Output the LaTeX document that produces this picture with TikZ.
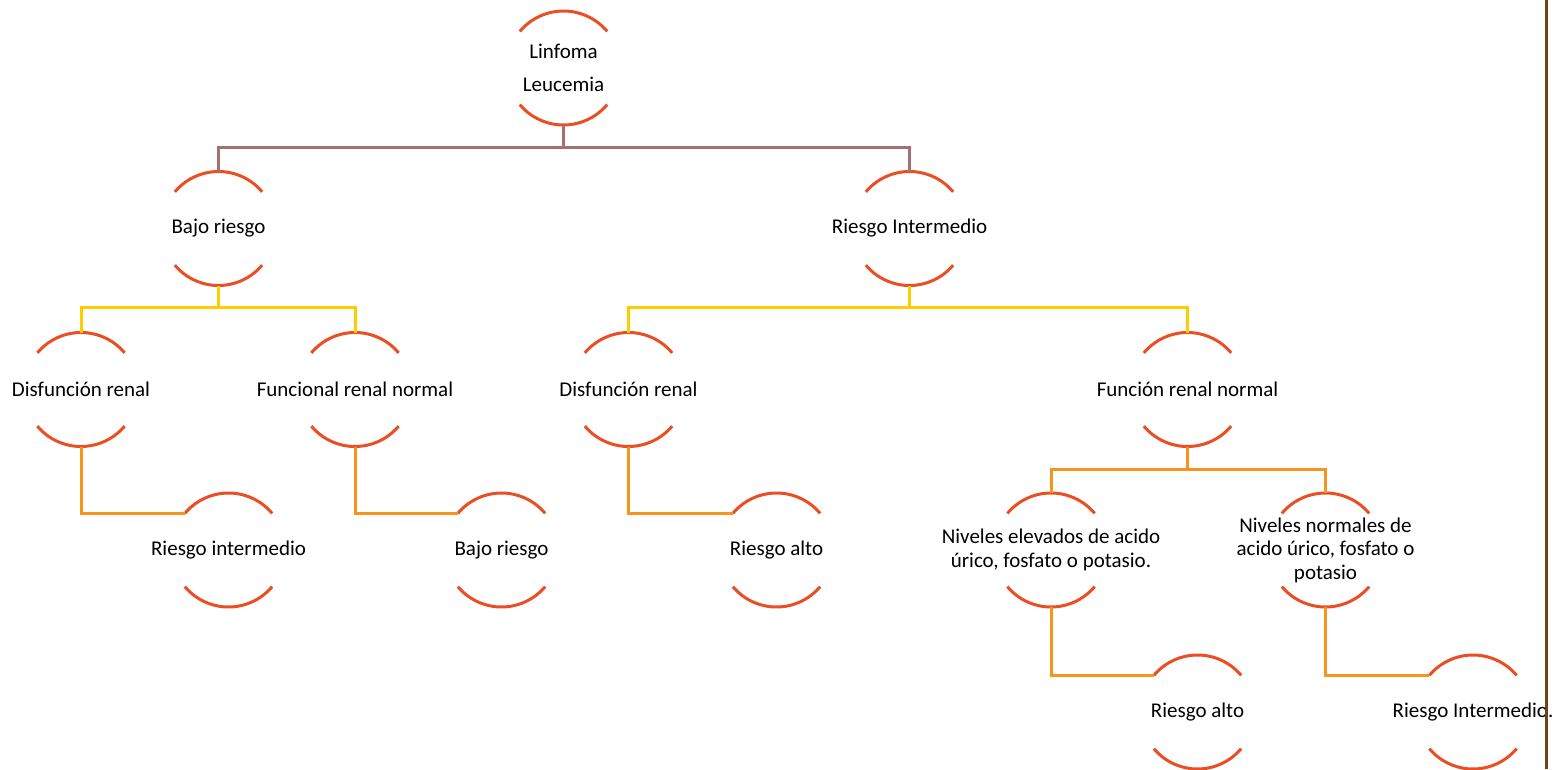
\documentclass[tikz,border=0pt]{standalone}
\usepackage{fontspec}
\setmainfont{Carlito}
\definecolor{arccol}{RGB}{233,78,36}
\definecolor{topcol}{RGB}{164,113,110}
\definecolor{yelcol}{RGB}{255,204,0}
\definecolor{orcol}{RGB}{247,148,30}
\definecolor{edgecol}{RGB}{107,67,24}
\begin{document}
\begin{tikzpicture}[x=1pt,y=1pt,
  bub/.style={inner sep=0pt, outer sep=0pt, align=center, font=\fontsize{21}{23.5}\selectfont},
  arcline/.style={draw=arccol, line width=3pt},
  lvlone/.style={draw=topcol, line width=3pt},
  lvltwo/.style={draw=yelcol, line width=3pt},
  lvlthree/.style={draw=orcol, line width=3pt},
  rightline/.style={draw=edgecol, line width=2.5pt}]
\useasboundingbox (0,0) rectangle (1556,-769);
% nodes
\node[bub, font=\fontsize{21}{33.6}\selectfont] (root) at (563.5,-68) {Linfoma\\Leucemia};
\node[bub] (br)   at (218.5,-228.5) {Bajo riesgo};
\node[bub] (ri)   at (909.5,-228.5) {Riesgo Intermedio};
\node[bub] (dra)  at (81,-389.5) {Disfunción renal};
\node[bub] (frna) at (355,-389.5) {Funcional renal normal};
\node[bub] (drb)  at (628.5,-389.5) {Disfunción renal};
\node[bub] (frnb) at (1187.5,-389.5) {Función renal normal};
\node[bub] (ria)  at (228.5,-550) {Riesgo intermedio};
\node[bub] (bra)  at (501.5,-550) {Bajo riesgo};
\node[bub] (raa)  at (776.5,-550) {Riesgo alto};
\node[bub] (ne)   at (1051,-550) {Niveles elevados de acido\\úrico, fosfato o potasio.};
\node[bub] (nn)   at (1325.5,-550) {Niveles normales de\\acido úrico, fosfato o\\potasio};
\node[bub] (rab)  at (1197.5,-712) {Riesgo alto};
\node[bub] (rib)  at (1473,-712) {Riesgo Intermedio.};
% arcs
\foreach \n in {root,br,ri,dra,frna,drb,frnb,ria,bra,raa,ne,nn,rab,rib}{
  \draw[arcline] (\n.center) ++(40:57pt) arc[start angle=40,end angle=140,radius=57pt];
  \draw[arcline] (\n.center) ++(220:57pt) arc[start angle=220,end angle=320,radius=57pt];
}
% connectors
\draw[lvlone] ([yshift=-57pt]root.center) -- ++(0,-22pt) -| ([yshift=57pt]br.center);
\draw[lvlone] ([yshift=-57pt]root.center) -- ++(0,-22pt) -| ([yshift=57pt]ri.center);
\draw[lvltwo] ([yshift=-57pt]br.center) -- ++(0,-22pt) -| ([yshift=57pt]dra.center);
\draw[lvltwo] ([yshift=-57pt]br.center) -- ++(0,-22pt) -| ([yshift=57pt]frna.center);
\draw[lvltwo] ([yshift=-57pt]ri.center) -- ++(0,-22pt) -| ([yshift=57pt]drb.center);
\draw[lvltwo] ([yshift=-57pt]ri.center) -- ++(0,-22pt) -| ([yshift=57pt]frnb.center);
\draw[lvlthree] ([yshift=-57pt]frnb.center) -- ++(0,-23pt) -| ([yshift=57pt]ne.center);
\draw[lvlthree] ([yshift=-57pt]frnb.center) -- ++(0,-23pt) -| ([yshift=57pt]nn.center);
\draw[lvlthree] ([yshift=-57pt]dra.center) |- ([shift={(140:57pt)}]ria.center);
\draw[lvlthree] ([yshift=-57pt]frna.center) |- ([shift={(140:57pt)}]bra.center);
\draw[lvlthree] ([yshift=-57pt]drb.center) |- ([shift={(140:57pt)}]raa.center);
\draw[lvlthree] ([yshift=-57pt]ne.center) |- ([shift={(140:57pt)}]rab.center);
\draw[lvlthree] ([yshift=-57pt]nn.center) |- ([shift={(140:57pt)}]rib.center);
% right edge line
\coordinate (edgetop) at (1546.5,0);
\coordinate (edgebot) at (1546.5,-769);
\draw[rightline] (edgetop) -- (edgebot);
\end{tikzpicture}
\end{document}
